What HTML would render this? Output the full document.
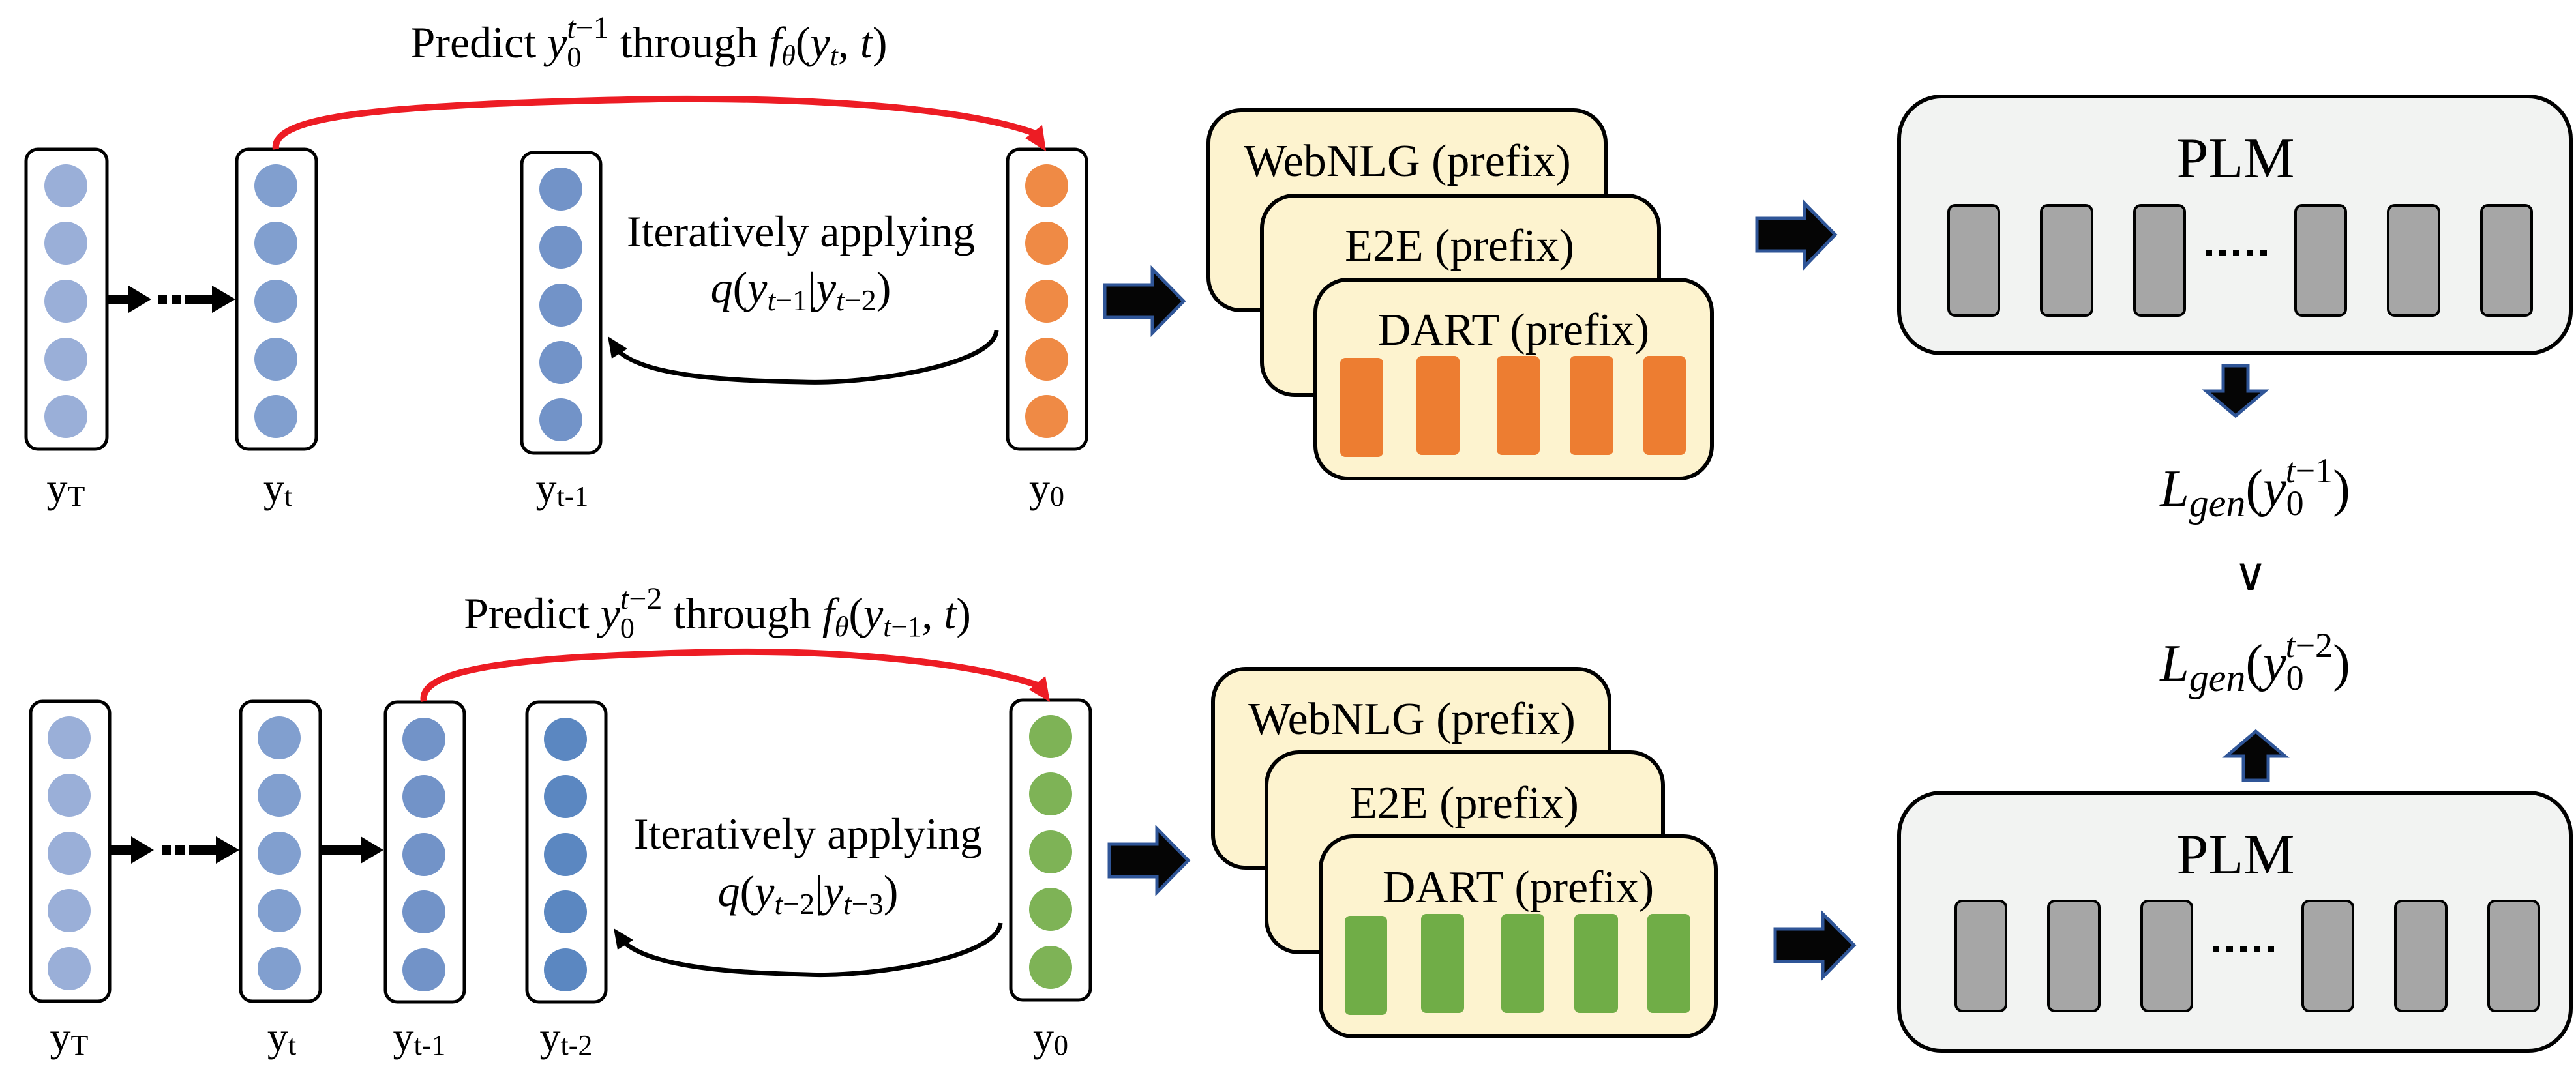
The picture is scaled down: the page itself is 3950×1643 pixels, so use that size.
<!DOCTYPE html>
<html><head><meta charset="utf-8"><style>
html,body{margin:0;padding:0;background:#fff;}
svg{display:block;}
svg text{font-family:"Liberation Serif","Times New Roman",serif;fill:#000;}
.it{font-style:italic;}
</style></head><body>
<svg width="3950" height="1643" viewBox="0 0 3950 1643" xmlns="http://www.w3.org/2000/svg" font-family="Liberation Serif, Times New Roman, serif">

<!-- ===== TOP ROW ===== -->
<text x="995" y="88" font-size="68" text-anchor="middle">Predict <tspan class="it">y</tspan><tspan font-size="44" dy="14">0</tspan><tspan class="it" font-size="48" dy="-44" dx="-22">t</tspan><tspan font-size="48">−1</tspan><tspan dy="30"> through </tspan><tspan class="it">f</tspan><tspan class="it" font-size="44" dy="12">θ</tspan><tspan dy="-12">(</tspan><tspan class="it">y</tspan><tspan class="it" font-size="44" dy="12">t</tspan><tspan dy="-12">, </tspan><tspan class="it">t</tspan>)</text>

<rect x="40" y="229" width="124" height="460" rx="18" fill="#fff" stroke="#000" stroke-width="5"/>
<g fill="#9aafd8"><ellipse cx="101" cy="285" rx="33" ry="33"/><ellipse cx="101" cy="373" rx="33" ry="33"/><ellipse cx="101" cy="462" rx="33" ry="33"/><ellipse cx="101" cy="551" rx="33" ry="33"/><ellipse cx="101" cy="639" rx="33" ry="33"/></g>
<rect x="363" y="229" width="122" height="460" rx="18" fill="#fff" stroke="#000" stroke-width="5"/>
<g fill="#819fcf"><ellipse cx="423" cy="285" rx="33" ry="33"/><ellipse cx="423" cy="373" rx="33" ry="33"/><ellipse cx="423" cy="462" rx="33" ry="33"/><ellipse cx="423" cy="551" rx="33" ry="33"/><ellipse cx="423" cy="639" rx="33" ry="33"/></g>
<rect x="800" y="234" width="121" height="461" rx="18" fill="#fff" stroke="#000" stroke-width="5"/>
<g fill="#7293c8"><ellipse cx="860" cy="290" rx="33" ry="33"/><ellipse cx="860" cy="379" rx="33" ry="33"/><ellipse cx="860" cy="468" rx="33" ry="33"/><ellipse cx="860" cy="556" rx="33" ry="33"/><ellipse cx="860" cy="644" rx="33" ry="33"/></g>
<rect x="1545" y="229" width="121" height="460" rx="18" fill="#fff" stroke="#000" stroke-width="5"/>
<g fill="#ef8a45"><ellipse cx="1605" cy="285" rx="33" ry="33"/><ellipse cx="1605" cy="373" rx="33" ry="33"/><ellipse cx="1605" cy="462" rx="33" ry="33"/><ellipse cx="1605" cy="551" rx="33" ry="33"/><ellipse cx="1605" cy="639" rx="33" ry="33"/></g>

<g fill="#000">
<rect x="164" y="452" width="35" height="14"/><path d="M197,438 L232,459 L197,480 Z"/>
<rect x="242" y="452" width="14" height="14"/><rect x="263" y="452" width="14" height="14"/>
<rect x="283" y="452" width="45" height="14"/><path d="M325,438 L361,459 L325,480 Z"/>
</g>

<path d="M423,229 C415,175 600,160 1010,152 C1250,150 1480,165 1588,205" fill="none" stroke="#ed1c24" stroke-width="10"/>
<path d="M1604,232 L1572,212 L1598,192 Z" fill="#ed1c24"/>
<path d="M1528,507 C1525,560 1330,590 1230,586 C1100,584 980,575 945,535" fill="none" stroke="#000" stroke-width="7"/>
<path d="M932,516 L962,535 L938,550 Z" fill="#000"/>

<text x="1228" y="378" font-size="68" text-anchor="middle">Iteratively applying</text>
<text x="1228" y="464" font-size="68" text-anchor="middle"><tspan class="it">q</tspan>(<tspan class="it">y</tspan><tspan font-size="46" dy="12"><tspan class="it">t</tspan>−1</tspan><tspan dy="-12">|</tspan><tspan class="it">y</tspan><tspan font-size="46" dy="12"><tspan class="it">t</tspan>−2</tspan><tspan dy="-12">)</tspan></text>

<g font-size="64" text-anchor="middle">
<text x="101" y="770">y<tspan font-size="44" dy="6">T</tspan></text>
<text x="426" y="770">y<tspan font-size="44" dy="6">t</tspan></text>
<text x="862" y="770">y<tspan font-size="44" dy="6">t-1</tspan></text>
<text x="1605" y="770">y<tspan font-size="44" dy="6">0</tspan></text>
</g>

<!-- ===== BOTTOM ROW ===== -->
<text x="1100" y="964" font-size="68" text-anchor="middle">Predict <tspan class="it">y</tspan><tspan font-size="44" dy="14">0</tspan><tspan class="it" font-size="48" dy="-44" dx="-22">t</tspan><tspan font-size="48">−2</tspan><tspan dy="30"> through </tspan><tspan class="it">f</tspan><tspan class="it" font-size="44" dy="12">θ</tspan><tspan dy="-12">(</tspan><tspan class="it">y</tspan><tspan font-size="44" dy="12"><tspan class="it">t</tspan>−1</tspan><tspan dy="-12">, </tspan><tspan class="it">t</tspan>)</text>

<rect x="47" y="1076" width="121" height="460" rx="18" fill="#fff" stroke="#000" stroke-width="5"/>
<g fill="#9aafd8"><ellipse cx="106" cy="1132" rx="33" ry="33"/><ellipse cx="106" cy="1220" rx="33" ry="33"/><ellipse cx="106" cy="1309" rx="33" ry="33"/><ellipse cx="106" cy="1397" rx="33" ry="33"/><ellipse cx="106" cy="1486" rx="33" ry="33"/></g>
<rect x="369" y="1076" width="122" height="460" rx="18" fill="#fff" stroke="#000" stroke-width="5"/>
<g fill="#819fcf"><ellipse cx="428" cy="1132" rx="33" ry="33"/><ellipse cx="428" cy="1220" rx="33" ry="33"/><ellipse cx="428" cy="1309" rx="33" ry="33"/><ellipse cx="428" cy="1397" rx="33" ry="33"/><ellipse cx="428" cy="1486" rx="33" ry="33"/></g>
<rect x="591" y="1077" width="121" height="460" rx="18" fill="#fff" stroke="#000" stroke-width="5"/>
<g fill="#7293c8"><ellipse cx="650" cy="1134" rx="33" ry="33"/><ellipse cx="650" cy="1222" rx="33" ry="33"/><ellipse cx="650" cy="1311" rx="33" ry="33"/><ellipse cx="650" cy="1399" rx="33" ry="33"/><ellipse cx="650" cy="1488" rx="33" ry="33"/></g>
<rect x="808" y="1077" width="121" height="460" rx="18" fill="#fff" stroke="#000" stroke-width="5"/>
<g fill="#5b87c1"><ellipse cx="867" cy="1134" rx="33" ry="33"/><ellipse cx="867" cy="1222" rx="33" ry="33"/><ellipse cx="867" cy="1311" rx="33" ry="33"/><ellipse cx="867" cy="1399" rx="33" ry="33"/><ellipse cx="867" cy="1488" rx="33" ry="33"/></g>
<rect x="1550" y="1074" width="122" height="460" rx="18" fill="#fff" stroke="#000" stroke-width="5"/>
<g fill="#7eb356"><ellipse cx="1611" cy="1130" rx="33" ry="33"/><ellipse cx="1611" cy="1218" rx="33" ry="33"/><ellipse cx="1611" cy="1307" rx="33" ry="33"/><ellipse cx="1611" cy="1395" rx="33" ry="33"/><ellipse cx="1611" cy="1484" rx="33" ry="33"/></g>

<g fill="#000">
<rect x="168" y="1297" width="35" height="14"/><path d="M201,1283 L236,1304 L201,1325 Z"/>
<rect x="248" y="1297" width="14" height="14"/><rect x="269" y="1297" width="14" height="14"/>
<rect x="290" y="1297" width="45" height="14"/><path d="M331,1283 L367,1304 L331,1325 Z"/>
<rect x="491" y="1297" width="65" height="14"/><path d="M553,1283 L588,1304 L553,1325 Z"/>
</g>

<path d="M650,1076 C640,1025 800,1005 1120,1000 C1320,998 1500,1020 1594,1052" fill="none" stroke="#ed1c24" stroke-width="10"/>
<path d="M1610,1077 L1578,1058 L1603,1037 Z" fill="#ed1c24"/>
<path d="M1534,1416 C1530,1470 1330,1500 1235,1495 C1100,1492 990,1480 953,1442" fill="none" stroke="#000" stroke-width="7"/>
<path d="M941,1424 L971,1442 L947,1457 Z" fill="#000"/>

<text x="1239" y="1302" font-size="68" text-anchor="middle">Iteratively applying</text>
<text x="1239" y="1390" font-size="68" text-anchor="middle"><tspan class="it">q</tspan>(<tspan class="it">y</tspan><tspan font-size="46" dy="12"><tspan class="it">t</tspan>−2</tspan><tspan dy="-12">|</tspan><tspan class="it">y</tspan><tspan font-size="46" dy="12"><tspan class="it">t</tspan>−3</tspan><tspan dy="-12">)</tspan></text>

<g font-size="64" text-anchor="middle">
<text x="106" y="1612">y<tspan font-size="44" dy="6">T</tspan></text>
<text x="432" y="1612">y<tspan font-size="44" dy="6">t</tspan></text>
<text x="643" y="1612">y<tspan font-size="44" dy="6">t-1</tspan></text>
<text x="868" y="1612">y<tspan font-size="44" dy="6">t-2</tspan></text>
<text x="1611" y="1612">y<tspan font-size="44" dy="6">0</tspan></text>
</g>

<!-- ===== Block arrows ===== -->
<g fill="#050505" stroke="#2f5597" stroke-width="5" stroke-linejoin="miter">
<path d="M1694,437 L1767,437 L1767,413 L1815,462 L1767,511 L1767,487 L1694,487 Z"/>
<path d="M1701,1295 L1774,1295 L1774,1271 L1822,1320 L1774,1369 L1774,1345 L1701,1345 Z"/>
<path d="M2694,335 L2767,335 L2767,312 L2814,360 L2767,409 L2767,385 L2694,385 Z"/>
<path d="M2722,1425 L2795,1425 L2795,1402 L2843,1450 L2795,1499 L2795,1475 L2722,1475 Z"/>
<path d="M3409,561 L3409,600 L3383,600 L3428,638 L3473,600 L3447,600 L3447,561 Z"/>
<path d="M3440,1197 L3440,1160 L3414,1160 L3459,1122 L3504,1160 L3478,1160 L3478,1197 Z"/>
</g>

<!-- ===== Prefix cards top ===== -->
<g stroke="#000" stroke-width="6" fill="#fdf3cf">
<rect x="1853" y="169" width="609" height="307" rx="50"/>
<rect x="1935" y="300" width="609" height="306" rx="50"/>
<rect x="2017" y="429" width="608" height="305" rx="50"/>
</g>
<g font-size="70" text-anchor="middle">
<text x="2158" y="270">WebNLG (prefix)</text>
<text x="2238" y="400">E2E (prefix)</text>
<text x="2321" y="529">DART (prefix)</text>
</g>
<g fill="#ed7d31">
<rect x="2055" y="549" width="66" height="152" rx="8"/><rect x="2172" y="546" width="66" height="152" rx="8"/><rect x="2295" y="546" width="66" height="152" rx="8"/><rect x="2407" y="546" width="67" height="152" rx="8"/><rect x="2520" y="546" width="65" height="152" rx="8"/>
</g>

<!-- ===== Prefix cards bottom ===== -->
<g stroke="#000" stroke-width="6" fill="#fdf3cf">
<rect x="1860" y="1026" width="608" height="305" rx="50"/>
<rect x="1942" y="1154" width="608" height="307" rx="50"/>
<rect x="2025" y="1283" width="606" height="307" rx="50"/>
</g>
<g font-size="70" text-anchor="middle">
<text x="2165" y="1126">WebNLG (prefix)</text>
<text x="2245" y="1255">E2E (prefix)</text>
<text x="2328" y="1384">DART (prefix)</text>
</g>
<g fill="#70ad47">
<rect x="2062" y="1405" width="65" height="152" rx="8"/><rect x="2179" y="1402" width="66" height="152" rx="8"/><rect x="2302" y="1402" width="66" height="152" rx="8"/><rect x="2414" y="1402" width="67" height="152" rx="8"/><rect x="2526" y="1402" width="66" height="152" rx="8"/>
</g>

<!-- ===== PLM top ===== -->
<rect x="2912" y="148" width="1030" height="394" rx="65" fill="#f2f3f2" stroke="#000" stroke-width="6"/>
<text x="3428" y="272" font-size="88" text-anchor="middle">PLM</text>
<g fill="#a6a6a6" stroke="#000" stroke-width="4">
<rect x="2988" y="315" width="77" height="169" rx="10"/><rect x="3130" y="315" width="78" height="169" rx="10"/><rect x="3273" y="315" width="77" height="169" rx="10"/><rect x="3520" y="315" width="77" height="169" rx="10"/><rect x="3662" y="315" width="78" height="169" rx="10"/><rect x="3805" y="315" width="77" height="169" rx="10"/>
</g>
<g fill="#000"><rect x="3382" y="383" width="10" height="10"/><rect x="3403" y="383" width="10" height="10"/><rect x="3424" y="383" width="10" height="10"/><rect x="3445" y="383" width="10" height="10"/><rect x="3466" y="383" width="10" height="10"/></g>

<!-- ===== PLM bottom ===== -->
<rect x="2912" y="1216" width="1030" height="396" rx="65" fill="#f2f3f2" stroke="#000" stroke-width="6"/>
<text x="3428" y="1340" font-size="88" text-anchor="middle">PLM</text>
<g fill="#a6a6a6" stroke="#000" stroke-width="4">
<rect x="2999" y="1382" width="77" height="169" rx="10"/><rect x="3141" y="1382" width="78" height="169" rx="10"/><rect x="3284" y="1382" width="77" height="169" rx="10"/><rect x="3531" y="1382" width="77" height="169" rx="10"/><rect x="3673" y="1382" width="78" height="169" rx="10"/><rect x="3816" y="1382" width="77" height="169" rx="10"/>
</g>
<g fill="#000"><rect x="3393" y="1451" width="10" height="10"/><rect x="3414" y="1451" width="10" height="10"/><rect x="3435" y="1451" width="10" height="10"/><rect x="3456" y="1451" width="10" height="10"/><rect x="3477" y="1451" width="10" height="10"/></g>

<!-- ===== Loss ===== -->
<text x="3458" y="776" font-size="80" text-anchor="middle"><tspan class="it">L</tspan><tspan class="it" font-size="60" dy="16">gen</tspan><tspan dy="-16">(</tspan><tspan class="it">y</tspan><tspan font-size="54" dy="14">0</tspan><tspan class="it" font-size="54" dy="-50" dx="-28">t</tspan><tspan font-size="54">−1</tspan><tspan dy="36">)</tspan></text>
<text x="3451" y="905" font-size="70" text-anchor="middle">∨</text>
<text x="3458" y="1044" font-size="80" text-anchor="middle"><tspan class="it">L</tspan><tspan class="it" font-size="60" dy="16">gen</tspan><tspan dy="-16">(</tspan><tspan class="it">y</tspan><tspan font-size="54" dy="14">0</tspan><tspan class="it" font-size="54" dy="-50" dx="-28">t</tspan><tspan font-size="54">−2</tspan><tspan dy="36">)</tspan></text>
</svg>
</body></html>
